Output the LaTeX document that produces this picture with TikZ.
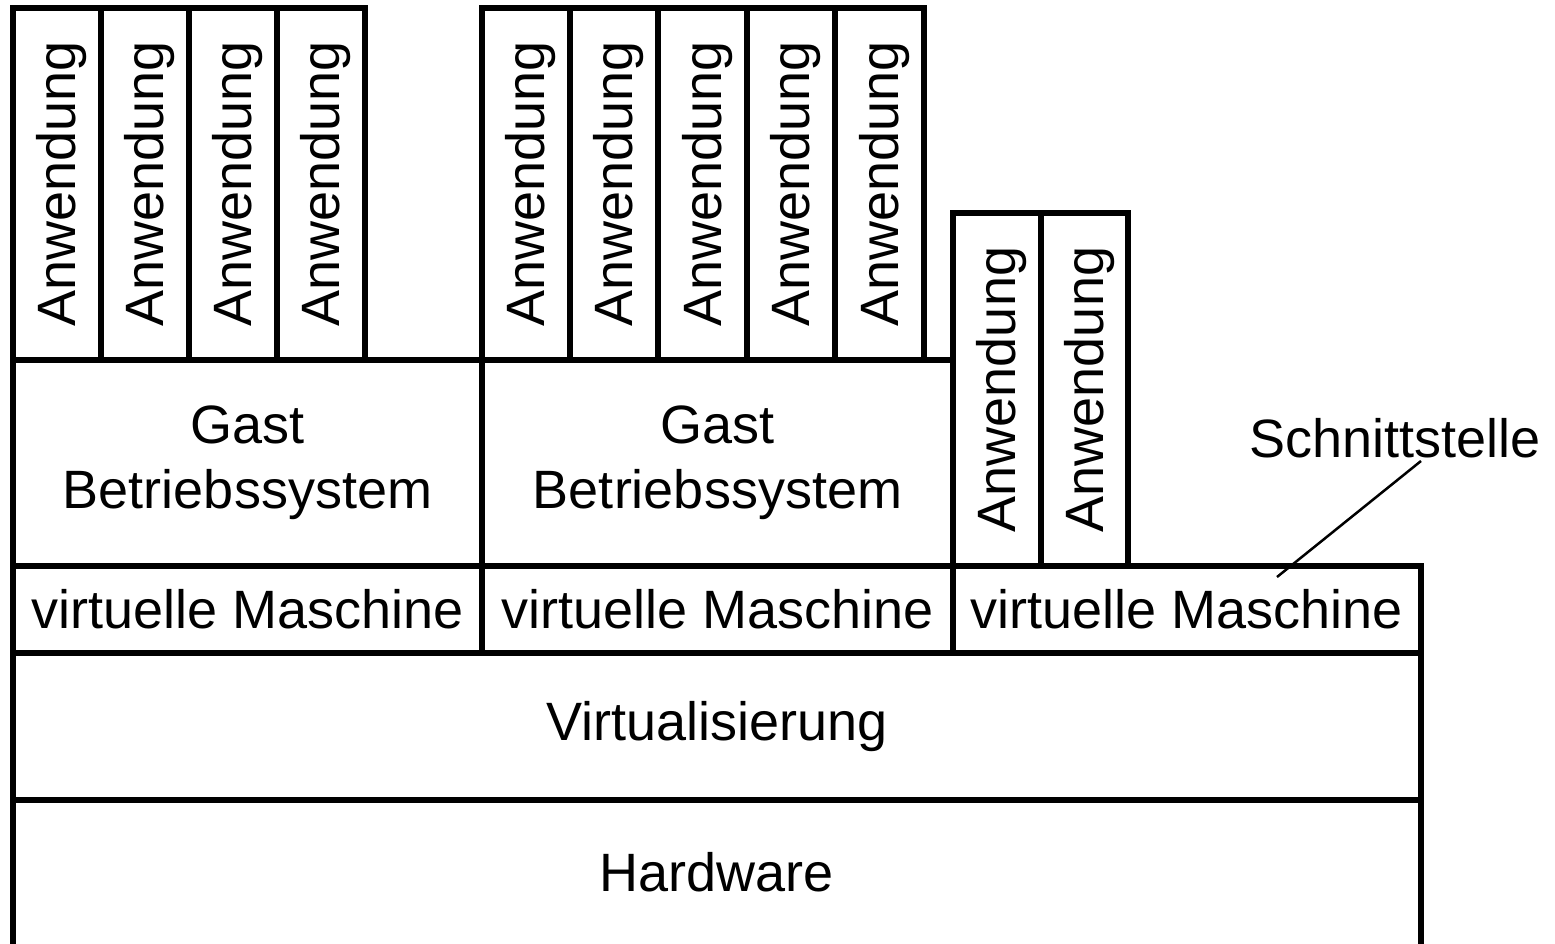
\documentclass[tikz,border=0pt]{standalone}
\usepackage{fontspec}
\setmainfont{Liberation Sans}
% vertical application label, set slightly towards its baseline
\newcommand\anwtext{\rotatebox{90}{\raisebox{-5pt}[\height][\depth]{Anwendung}}}
\begin{document}
\begin{tikzpicture}[x=1pt,y=-1pt,
  cell/.style={draw, line width=6pt, rectangle, inner sep=0pt, outer sep=0pt,
               align=center, font=\fontsize{54}{65}\selectfont},
  appcell/.style={cell, minimum width=#1, minimum height=352},
  appcellb/.style={cell, minimum width=#1, minimum height=353},
  oscell/.style={cell, minimum width=#1, minimum height=206},
  vmcell/.style={cell, minimum width=#1, minimum height=87},
  label/.style={inner sep=0pt, outer sep=0pt, font=\fontsize{54}{65}\selectfont},
  leader/.style={line width=2.5pt}]
\useasboundingbox (0,0) rectangle (1555,944);

% first guest: four applications
\node[appcell=88] (a1) at (57,184) {\anwtext};
\node[appcell=88] (a2) at (145,184) {\anwtext};
\node[appcell=88] (a3) at (233,184) {\anwtext};
\node[appcell=88] (a4) at (321,184) {\anwtext};

% second guest: five applications
\node[appcell=88]   (b1) at (526,184) {\anwtext};
\node[appcell=88]   (b2) at (614,184) {\anwtext};
\node[appcell=89]   (b3) at (702.5,184) {\anwtext};
\node[appcell=88]   (b4) at (791,184) {\anwtext};
\node[appcell=88.5] (b5) at (879.25,184) {\anwtext};

% guest operating systems
\node[oscell=469] (os1) at (247.5,463) {Gast\\Betriebssystem};
\node[oscell=471] (os2) at (717.5,463) {Gast\\Betriebssystem};

% third machine: applications directly on the VM interface
\node[appcellb=88] (c1) at (997,389.5) {\anwtext};
\node[appcellb=87] (c2) at (1084.5,389.5) {\anwtext};

% virtual machines
\node[vmcell=469] (vm1) at (247.5,609.5) {virtuelle Maschine};
\node[vmcell=471] (vm2) at (717.5,609.5) {virtuelle Maschine};
\node[vmcell=468] (vm3) at (1187,609.5) {virtuelle Maschine};

% virtualisation layer
\node[cell, minimum width=1408, minimum height=147] (virt) at (717,726.5) {Virtualisierung};

% hardware, open at the bottom
\node[cell, draw=none, minimum width=1408, minimum height=144] (hw) at (717,872) {Hardware};
\draw[line width=6pt] (hw.north west) -- (hw.south west);
\draw[line width=6pt] (hw.north east) -- (hw.south east);

% interface annotation
\node[label] (schnitt) at (1395,438) {Schnittstelle};
\coordinate (leadfoot) at (1277,577);
\coordinate (leadtop) at (1421,461);
\draw[leader] (leadfoot) -- (leadtop);
\end{tikzpicture}
\end{document}
